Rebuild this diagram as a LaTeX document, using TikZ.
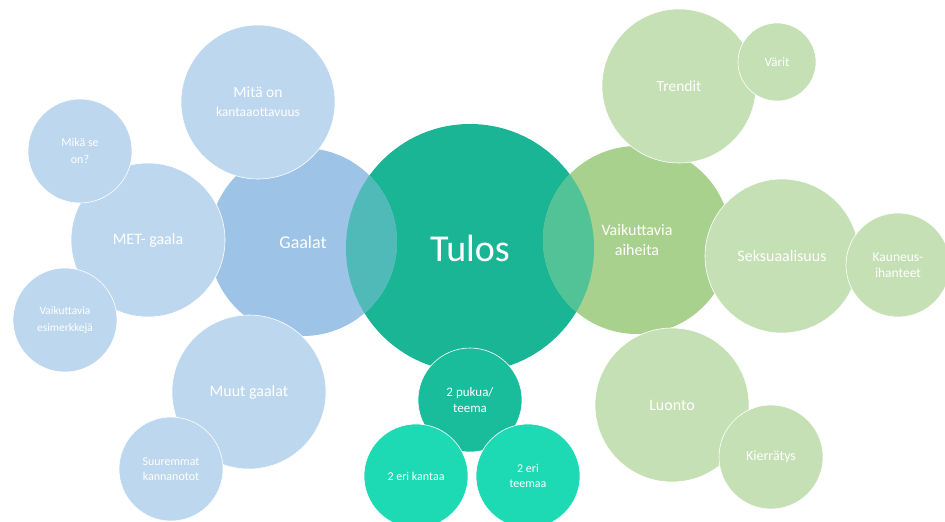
\documentclass[tikz,border=0pt]{standalone}
\usepackage{fontspec}
\setmainfont{Carlito}
\definecolor{lightblue}{HTML}{BDD7EE}
\definecolor{midblue}{HTML}{9DC3E6}
\definecolor{tulosgreen}{HTML}{1AB595}
\definecolor{pukugreen}{HTML}{19BD9B}
\definecolor{erigreen}{HTML}{1DDAB4}
\definecolor{midgreen}{HTML}{A9D18E}
\definecolor{lightgreen}{HTML}{C5E0B4}
\definecolor{mixblue}{HTML}{50BAB8}
\definecolor{mixgreen}{HTML}{52C396}
\newcommand{\fsz}[2]{\fontsize{#1}{#2}\selectfont}
\begin{document}
\begin{tikzpicture}[x=1pt, y=-1pt,
  bub/.style={circle, inner sep=0pt, text=white, align=center},
  rim/.style={bub, draw=white, line width=0.6pt},
  hub/.style={bub, minimum size=248pt, fill=tulosgreen},
  mainblue/.style={bub, minimum size=188pt, fill=midblue},
  maingreen/.style={bub, minimum size=188pt, fill=midgreen},
  subblue/.style={rim, minimum size=154pt, fill=lightblue},
  leafblue/.style={rim, minimum size=104pt, fill=lightblue},
  subgreen/.style={rim, minimum size=154pt, fill=lightgreen},
  leafgreen/.style={rim, minimum size=104pt, fill=lightgreen},
  leafteal/.style={rim, minimum size=104pt, fill=erigreen}]
\useasboundingbox (0,0) rectangle (945,522);

\node (tulos) at (470,248) [hub, font=\fsz{38}{44}] {Tulos};
\node (gaalat) at (303,242) [mainblue, font=\fsz{18}{22}] {Gaalat};
\node (aiheet) at (637,240) [maingreen, font=\fsz{16}{20}] {Vaikuttavia\\aiheita};
\begin{scope}
\clip (gaalat.center) circle [radius=94pt];
\fill[mixblue] (tulos.center) circle [radius=124pt];
\end{scope}
\begin{scope}
\clip (aiheet.center) circle [radius=94pt];
\fill[mixgreen] (tulos.center) circle [radius=124pt];
\end{scope}

\node (kanta) at (258,102) [subblue, font=\fsz{13.5}{19}] {{\fsz{15.5}{19}Mitä on}\\kantaaottavuus};
\node (met) at (148,240) [subblue, font=\fsz{16}{19}] {MET- gaala};
\node (mika) at (80,151) [leafblue, font=\fsz{12}{17}] {Mikä se\\on?};
\node (esim) at (65,320) [leafblue, font=\fsz{11.5}{17}] {Vaikuttavia\\esimerkkejä};
\node (muut) at (249,392) [subblue, font=\fsz{16}{19}] {Muut gaalat};
\node (suuret) at (171,469) [leafblue, font=\fsz{12}{15}] {Suuremmat\\kannanotot};

\node (puku) at (470,400) [rim, minimum size=104pt, fill=pukugreen, font=\fsz{13}{16}] {2 pukua/\\teema};
\node (erikanta) at (416,476) [leafteal, font=\fsz{12}{15}] {2 eri kantaa};
\node (eriteema) at (528,476) [leafteal, font=\fsz{12}{15}] {2 eri\\teemaa};

\node (trendit) at (679,86) [subgreen, font=\fsz{15.5}{19}] {Trendit};
\node (varit) at (777,62) [rim, minimum size=78pt, fill=lightgreen, font=\fsz{13}{16}] {Värit};
\node (seksi) at (782,256) [subgreen, font=\fsz{16}{19}] {Seksuaalisuus};
\node (kauneus) at (898,265) [leafgreen, font=\fsz{13.5}{16}] {Kauneus-\\ihanteet};
\node (luonto) at (672,405) [subgreen, font=\fsz{16}{19}] {Luonto};
\node (kierratys) at (771,457) [leafgreen, font=\fsz{14}{17}] {Kierrätys};
\end{tikzpicture}
\end{document}
